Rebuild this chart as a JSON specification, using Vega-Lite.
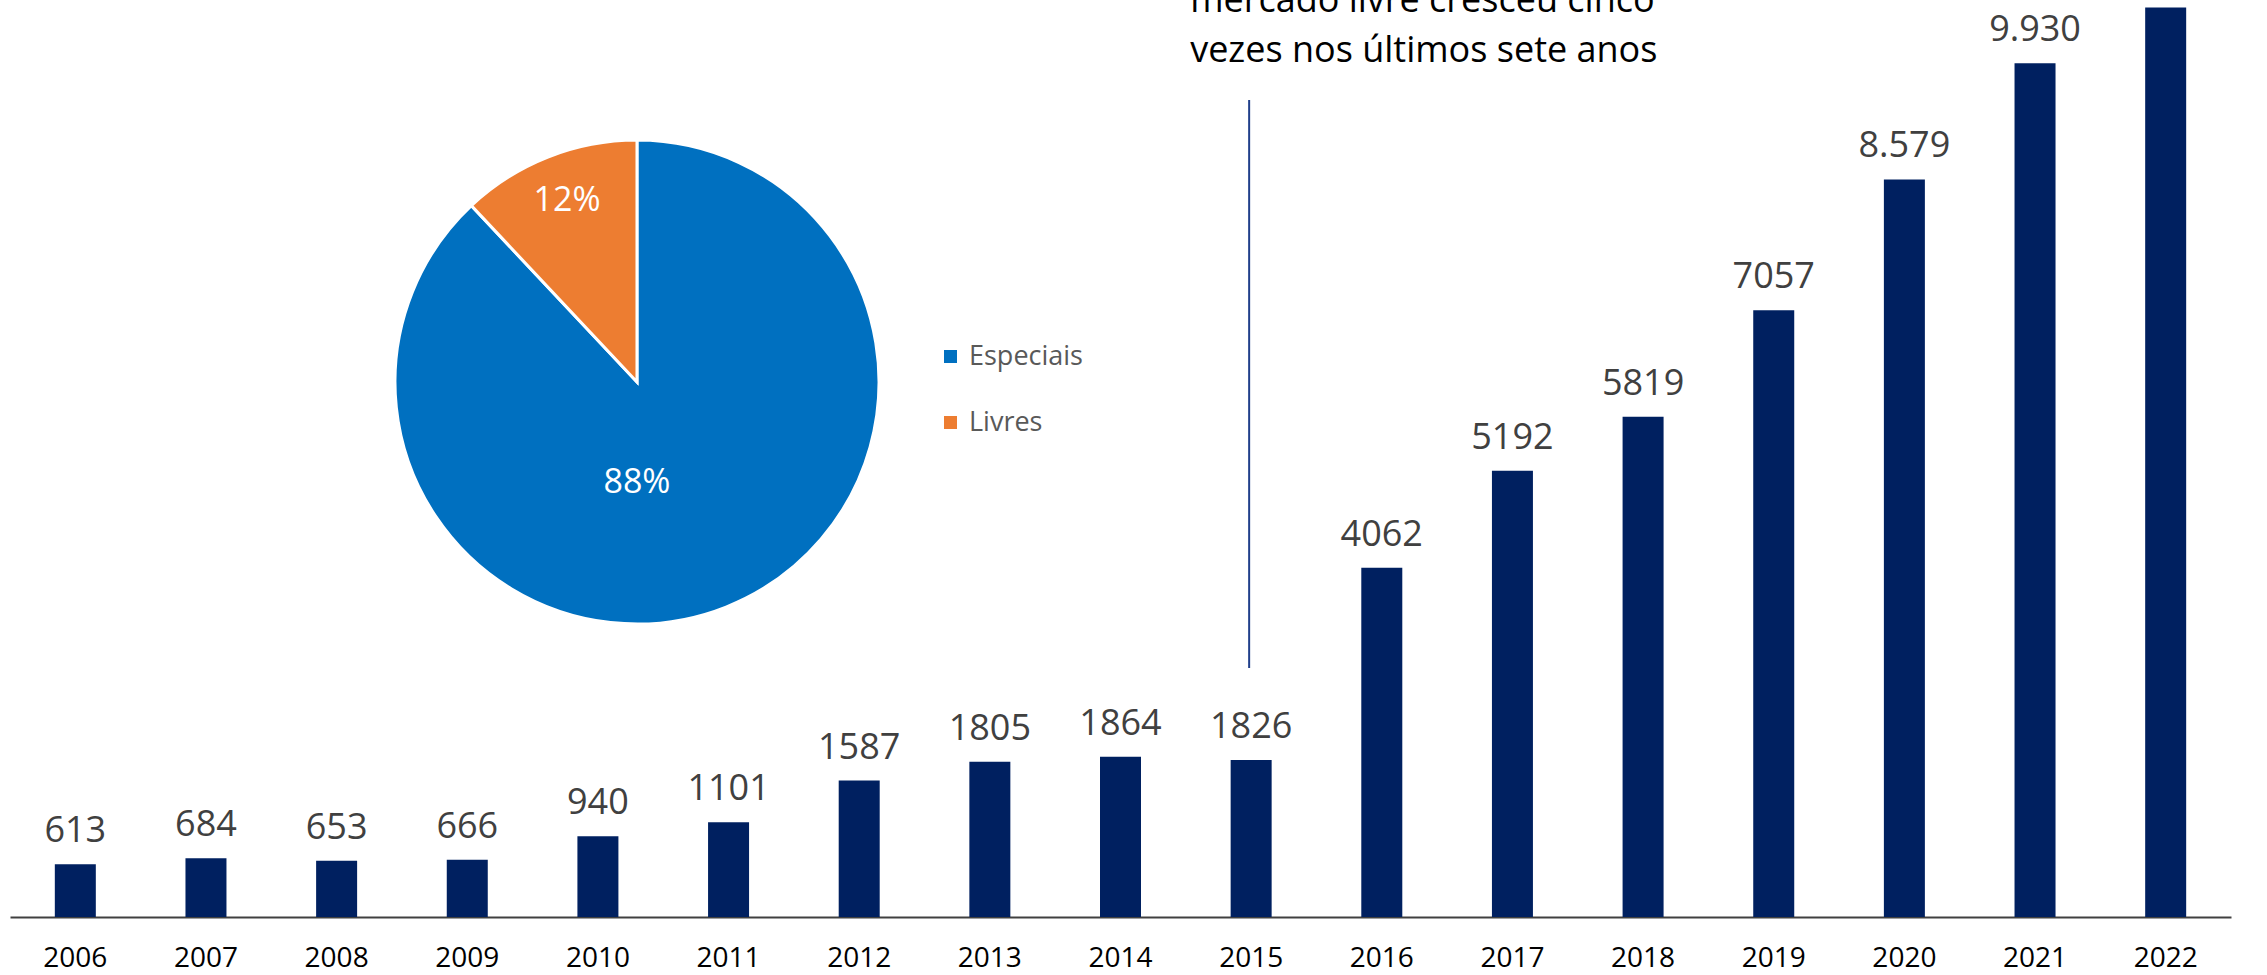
{
  "$schema": "https://vega.github.io/schema/vega-lite/v6.json",
  "width": 2221,
  "height": 917,
  "autosize": {"type": "none"},
  "padding": {"left": 10, "top": 0, "right": 36, "bottom": 58},
  "background": "white",
  "config": {"view": {"stroke": null}, "font": "Open Sans"},
  "datasets": {
    "anos": [
      {"ano": "2006", "valor": 613, "rotulo": "613"},
      {"ano": "2007", "valor": 684, "rotulo": "684"},
      {"ano": "2008", "valor": 653, "rotulo": "653"},
      {"ano": "2009", "valor": 666, "rotulo": "666"},
      {"ano": "2010", "valor": 940, "rotulo": "940"},
      {"ano": "2011", "valor": 1101, "rotulo": "1101"},
      {"ano": "2012", "valor": 1587, "rotulo": "1587"},
      {"ano": "2013", "valor": 1805, "rotulo": "1805"},
      {"ano": "2014", "valor": 1864, "rotulo": "1864"},
      {"ano": "2015", "valor": 1826, "rotulo": "1826"},
      {"ano": "2016", "valor": 4062, "rotulo": "4062"},
      {"ano": "2017", "valor": 5192, "rotulo": "5192"},
      {"ano": "2018", "valor": 5819, "rotulo": "5819"},
      {"ano": "2019", "valor": 7057, "rotulo": "7057"},
      {"ano": "2020", "valor": 8579, "rotulo": "8.579"},
      {"ano": "2021", "valor": 9930, "rotulo": "9.930"},
      {"ano": "2022", "valor": 10580, "rotulo": ""}
    ],
    "mercado": [
      {"tipo": "Especiais", "valor": 88, "rotulo": "88%"},
      {"tipo": "Livres", "valor": 12, "rotulo": "12%"}
    ]
  },
  "layer": [
    {
      "layer": [
        {
          "data": {"name": "anos"},
          "mark": {"type": "bar", "width": 41, "color": "#002060"},
          "encoding": {
            "x": {
              "field": "ano", "type": "ordinal",
              "scale": {"paddingInner": 0, "paddingOuter": 0},
              "axis": {
                "title": null, "domainColor": "#404040", "domainWidth": 2,
                "ticks": false, "grid": false, "labelAngle": 0,
                "labelFont": "Open Sans", "labelFontSize": 28, "labelColor": "black",
                "labelBaseline": "alphabetic", "labelPadding": 49
              }
            },
            "y": {
              "field": "valor", "type": "quantitative",
              "scale": {"domain": [0, 10667], "nice": false, "zero": true},
              "axis": null
            }
          }
        },
        {
          "data": {"name": "anos"},
          "transform": [{"filter": "datum.rotulo != ''"}],
          "mark": {"type": "text", "fontSize": 36, "fill": "#404040", "baseline": "alphabetic", "align": "center", "dy": -22, "font": "Open Sans"},
          "encoding": {
            "x": {"field": "ano", "type": "ordinal"},
            "y": {"field": "valor", "type": "quantitative"},
            "text": {"field": "rotulo", "type": "nominal"}
          }
        },
        {
          "data": {"values": [{"nota": "mercado livre"}]},
          "mark": {"type": "rule", "color": "#203F8A", "strokeWidth": 2, "xOffset": -2},
          "encoding": {
            "x": {"datum": "2015", "type": "ordinal"},
            "y": {"datum": 2896, "type": "quantitative"},
            "y2": {"datum": 9503}
          }
        },
        {
          "data": {"values": [{"nota": "mercado livre"}]},
          "mark": {
            "type": "text",
            "text": ["mercado livre cresceu cinco", "vezes nos últimos sete anos"],
            "fontSize": 36, "fill": "black", "align": "left", "baseline": "alphabetic",
            "lineHeight": 50, "dx": -61, "font": "Open Sans"
          },
          "encoding": {
            "x": {"datum": "2015", "type": "ordinal"},
            "y": {"datum": 10527, "type": "quantitative"}
          }
        }
      ]
    },
    {
      "data": {"name": "mercado"},
      "layer": [
        {
          "mark": {"type": "arc", "outerRadius": 242, "stroke": "white", "strokeWidth": 3},
          "encoding": {
            "theta": {"field": "valor", "type": "quantitative", "stack": true},
            "color": {
              "field": "tipo", "type": "nominal",
              "scale": {"domain": ["Especiais", "Livres"], "range": ["#0070C0", "#ED7D31"]},
              "legend": {
                "title": null, "orient": "none", "legendX": 927, "legendY": 343,
                "symbolType": "square", "symbolSize": 169, "symbolStrokeWidth": 0,
                "labelFont": "Open Sans", "labelFontSize": 27, "labelColor": "#595959",
                "rowPadding": 38, "labelOffset": 5
              }
            },
            "x": {"datum": 0.2823, "type": "quantitative", "scale": {"domain": [0, 1], "nice": false, "zero": false}, "axis": null},
            "y": {"datum": 0.5834, "type": "quantitative", "scale": {"domain": [0, 1], "nice": false, "zero": false}, "axis": null}
          }
        },
        {
          "transform": [{"filter": "datum.tipo == 'Livres'"}],
          "mark": {"type": "text", "radius": 194, "theta": -0.3686, "fontSize": 34, "fill": "white", "align": "center", "baseline": "middle", "font": "Open Sans"},
          "encoding": {
            "x": {"datum": 0.2823, "type": "quantitative"},
            "y": {"datum": 0.5834, "type": "quantitative"},
            "text": {"field": "rotulo", "type": "nominal"}
          }
        },
        {
          "transform": [{"filter": "datum.tipo == 'Especiais'"}],
          "mark": {"type": "text", "radius": 101, "theta": 3.1416, "fontSize": 34, "fill": "white", "align": "center", "baseline": "middle", "font": "Open Sans"},
          "encoding": {
            "x": {"datum": 0.2823, "type": "quantitative"},
            "y": {"datum": 0.5834, "type": "quantitative"},
            "text": {"field": "rotulo", "type": "nominal"}
          }
        }
      ]
    }
  ],
  "resolve": {"scale": {"x": "independent", "y": "independent"}}
}
